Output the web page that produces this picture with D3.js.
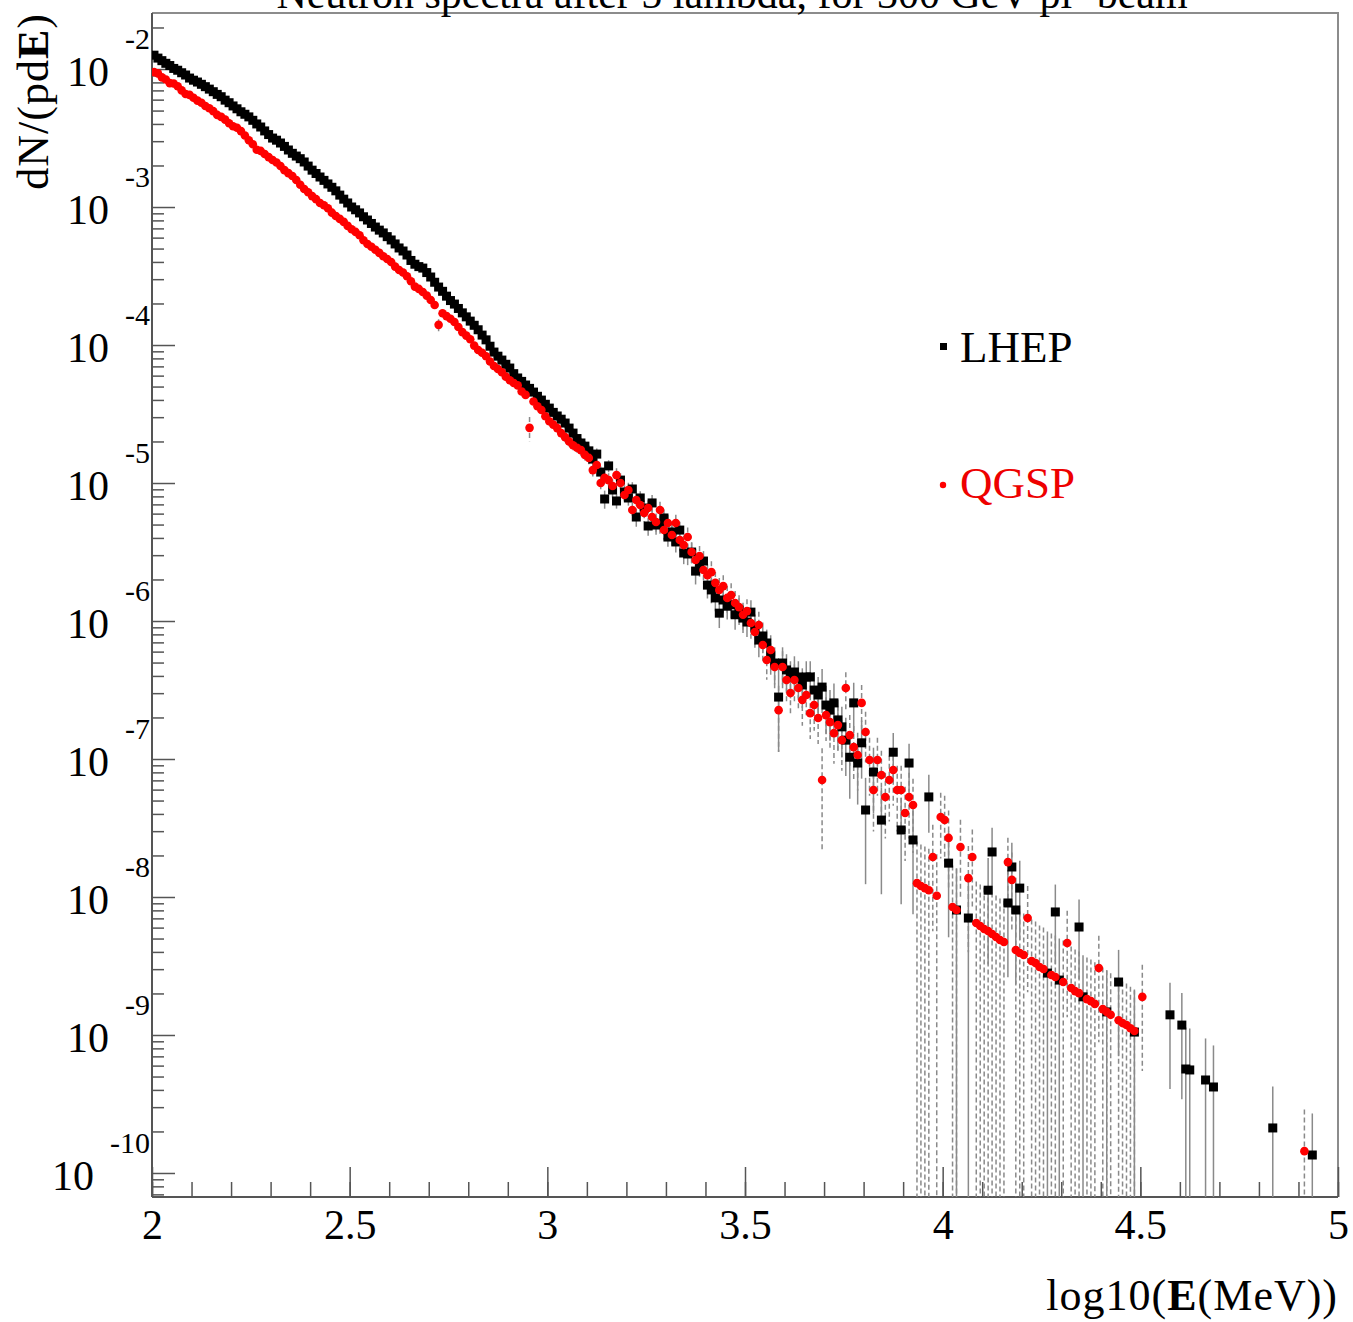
<!DOCTYPE html>
<html>
<head>
<meta charset="utf-8">
<script src="https://cdn.jsdelivr.net/npm/d3@7"></script>
<style>
  body { margin: 0; background: #fff; }
  text { font-family: "Liberation Serif", "Times New Roman", serif; fill: #000; }
</style>
</head>
<body>
<div id="chart"></div>
<script>
// LHEP: log10(E/MeV) bin centre, dN/(pdE), relative error
var lhepE = [2.005,2.015,2.025,2.035,2.045,2.055,2.065,2.075,2.085,2.095,2.105,2.115,2.125,2.135,2.145,2.155,2.165,2.175,2.185,2.195,
  2.205,2.215,2.225,2.235,2.245,2.255,2.265,2.275,2.285,2.295,2.305,2.315,2.325,2.335,2.345,2.355,2.365,2.375,2.385,2.395,
  2.405,2.415,2.425,2.435,2.445,2.455,2.465,2.475,2.485,2.495,2.505,2.515,2.525,2.535,2.545,2.555,2.565,2.575,2.585,2.595,
  2.605,2.615,2.625,2.635,2.645,2.655,2.665,2.675,2.685,2.695,2.705,2.715,2.725,2.735,2.745,2.755,2.765,2.775,2.785,2.795,
  2.805,2.815,2.825,2.835,2.845,2.855,2.865,2.875,2.885,2.895,2.905,2.915,2.925,2.935,2.945,2.955,2.965,2.975,2.985,2.995,
  3.005,3.015,3.025,3.035,3.045,3.055,3.065,3.075,3.085,3.095,
  3.105,3.115,3.125,3.135,3.145,3.155,3.165,3.175,3.185,3.195,3.205,3.215,3.225,3.235,3.245,3.255,3.265,3.275,3.285,3.295,
  3.305,3.315,3.325,3.335,3.345,3.355,3.365,3.375,3.385,3.395,3.405,3.415,3.425,3.435,3.445,3.455,3.465,3.475,3.485,3.495,
  3.505,3.515,3.525,3.535,3.545,3.555,3.565,3.575,3.585,3.595,3.605,3.615,3.625,3.635,3.645,3.655,3.665,3.675,3.685,3.695,
  3.705,3.715,3.725,3.735,3.745,3.755,3.765,3.775,3.785,3.795,
  3.805,3.825,3.845,3.875,3.895,3.915,3.925,3.965,4.015,4.035,4.065,4.115,4.125,4.165,4.175,4.185,4.195,4.265,4.285,4.295,
  4.345,4.355,4.415,4.445,4.485,4.575,4.605,4.615,4.625,4.665,4.685,4.835,4.935];
var lhepN = [1.26e-2,1.20e-2,1.15e-2,1.10e-2,1.06e-2,1.01e-2,9.80e-3,9.40e-3,9.05e-3,8.60e-3,8.30e-3,8.05e-3,7.75e-3,7.45e-3,7.15e-3,6.85e-3,6.55e-3,6.30e-3,5.95e-3,5.70e-3,
  5.40e-3,5.15e-3,4.90e-3,4.70e-3,4.50e-3,4.25e-3,4.00e-3,3.80e-3,3.56e-3,3.35e-3,3.16e-3,3.05e-3,2.91e-3,2.75e-3,2.59e-3,2.45e-3,2.34e-3,2.24e-3,2.12e-3,1.98e-3,
  1.85e-3,1.75e-3,1.65e-3,1.56e-3,1.47e-3,1.39e-3,1.31e-3,1.22e-3,1.14e-3,1.07e-3,1.00e-3,9.55e-4,9.06e-4,8.50e-4,8.05e-4,7.60e-4,7.16e-4,6.80e-4,6.49e-4,6.10e-4,
  5.77e-4,5.40e-4,5.05e-4,4.80e-4,4.49e-4,4.10e-4,3.85e-4,3.70e-4,3.61e-4,3.35e-4,3.11e-4,2.85e-4,2.63e-4,2.45e-4,2.26e-4,2.10e-4,1.98e-4,1.84e-4,1.71e-4,1.60e-4,
  1.49e-4,1.39e-4,1.29e-4,1.18e-4,1.09e-4,9.80e-5,8.89e-5,8.30e-5,7.78e-5,7.25e-5,6.81e-5,6.20e-5,5.77e-5,5.45e-5,5.13e-5,4.85e-5,4.56e-5,4.25e-5,3.99e-5,3.72e-5,
  3.49e-5,3.25e-5,3.06e-5,2.90e-5,2.72e-5,2.50e-5,2.30e-5,2.10e-5,1.95e-5,1.85e-5,
  1.71e-5,1.49e-5,1.62e-5,1.20e-5,7.66e-6,1.33e-5,8.90e-6,7.41e-6,1.05e-5,8.61e-6,7.79e-6,9.05e-6,5.67e-6,7.79e-6,6.59e-6,4.88e-6,7.17e-6,4.96e-6,5.05e-6,5.58e-6,
  4.06e-6,4.42e-6,3.74e-6,4.56e-6,3.11e-6,3.06e-6,3.16e-6,2.30e-6,2.55e-6,2.72e-6,1.82e-6,1.68e-6,1.47e-6,1.14e-6,1.42e-6,1.28e-6,1.31e-6,1.11e-6,1.20e-6,1.05e-6,
  9.83e-7,1.16e-6,8.90e-7,7.28e-7,7.79e-7,6.93e-7,5.67e-7,4.96e-7,2.81e-7,4.96e-7,4.42e-7,3.93e-7,4.27e-7,3.93e-7,3.44e-7,3.93e-7,3.93e-7,3.16e-7,2.91e-7,3.32e-7,
  2.46e-7,2.26e-7,2.55e-7,1.92e-7,1.71e-7,1.37e-7,1.03e-7,2.55e-7,9.35e-8,1.31e-7,
  4.27e-8,8.05e-8,3.61e-8,1.12e-7,3.06e-8,9.35e-8,2.59e-8,5.31e-8,1.76e-8,8.05e-9,7.04e-9,1.12e-8,2.12e-8,9.05e-9,1.65e-8,8.05e-9,1.16e-8,2.81e-9,7.79e-9,2.50e-9,
  6.06e-9,1.89e-9,1.47e-9,2.42e-9,1.05e-9,1.40e-9,1.18e-9,5.67e-10,5.58e-10,4.72e-10,4.20e-10,2.12e-10,1.35e-10];
var lhepErr = [0.02,0.02,0.02,0.02,0.02,0.02,0.02,0.02,0.02,0.02,0.02,0.02,0.02,0.02,0.02,0.02,0.02,0.02,0.02,0.02,
  0.02,0.02,0.02,0.02,0.02,0.02,0.02,0.02,0.02,0.02,0.02,0.02,0.02,0.02,0.02,0.02,0.02,0.02,0.02,0.02,
  0.03,0.03,0.03,0.03,0.03,0.03,0.03,0.03,0.03,0.03,0.03,0.03,0.03,0.03,0.03,0.03,0.03,0.03,0.03,0.03,
  0.04,0.04,0.04,0.04,0.04,0.04,0.04,0.04,0.04,0.04,0.04,0.04,0.04,0.04,0.04,0.04,0.04,0.04,0.04,0.04,
  0.05,0.05,0.05,0.05,0.05,0.05,0.05,0.05,0.05,0.05,0.06,0.06,0.06,0.06,0.06,0.06,0.06,0.06,0.06,0.06,
  0.07,0.07,0.07,0.07,0.08,0.08,0.08,0.08,0.09,0.09,
  0.1,0.1,0.1,0.1,0.15,0.1,0.12,0.12,0.12,0.12,0.12,0.12,0.15,0.12,0.14,0.15,0.14,0.15,0.15,0.15,
  0.15,0.15,0.16,0.15,0.17,0.17,0.17,0.2,0.18,0.18,0.2,0.2,0.2,0.22,0.2,0.2,0.2,0.22,0.22,0.22,
  0.22,0.22,0.25,0.25,0.25,0.25,0.28,0.3,0.6,0.3,0.3,0.3,0.3,0.3,0.32,0.3,0.3,0.35,0.35,0.35,
  0.38,0.4,0.38,0.4,0.4,0.45,0.5,0.4,0.5,0.45,
  0.71,0.5,0.71,0.38,0.71,0.38,0.71,0.45,0.71,1.0,1.0,0.71,0.5,0.71,0.5,0.71,0.58,1.0,0.58,1.0,
  0.58,1.0,1.0,0.71,1.0,0.71,0.71,1.0,1.0,1.0,1.0,1.0,1.0];

// QGSP: log10(E/MeV) bin centre, dN/(pdE), relative error
var qgspE = [2.005,2.015,2.025,2.035,2.045,2.055,2.065,2.075,2.085,2.095,2.105,2.115,2.125,2.135,2.145,2.155,2.165,2.175,2.185,2.195,
  2.205,2.215,2.225,2.235,2.245,2.255,2.265,2.275,2.285,2.295,2.305,2.315,2.325,2.335,2.345,2.355,2.365,2.375,2.385,2.395,
  2.405,2.415,2.425,2.435,2.445,2.455,2.465,2.475,2.485,2.495,2.505,2.515,2.525,2.535,2.545,2.555,2.565,2.575,2.585,2.595,
  2.605,2.615,2.625,2.635,2.645,2.655,2.665,2.675,2.685,2.695,2.705,2.715,2.725,2.735,2.745,2.755,2.765,2.775,2.785,2.795,
  2.805,2.815,2.825,2.835,2.845,2.855,2.865,2.875,2.885,2.895,2.905,2.915,2.925,2.935,2.945,2.955,2.965,2.975,2.985,2.995,
  3.005,3.015,3.025,3.035,3.045,3.055,3.065,3.075,3.085,3.095,
  3.105,3.115,3.125,3.135,3.145,3.155,3.165,3.175,3.185,3.195,3.205,3.215,3.225,3.235,3.245,3.255,3.265,3.275,3.285,3.295,
  3.305,3.315,3.325,3.335,3.345,3.355,3.365,3.375,3.385,3.395,3.405,3.415,3.425,3.435,3.445,3.455,3.465,3.475,3.485,3.495,
  3.505,3.515,3.525,3.535,3.545,3.555,3.565,3.575,3.585,3.595,3.605,3.615,3.625,3.635,3.645,3.655,3.665,3.675,3.685,3.695,
  3.705,3.715,3.725,3.735,3.745,3.755,3.765,3.775,3.785,3.795,3.805,3.815,3.825,3.835,3.845,3.855,3.865,3.875,3.885,3.895,
  3.905,3.915,3.925,
  3.935,3.945,3.955,3.965,3.975,3.985,3.995,4.005,4.015,4.025,4.035,4.045,4.065,4.075,4.085,4.095,4.105,4.115,4.125,4.135,
  4.145,4.155,4.165,4.175,4.185,4.195,4.205,4.215,4.225,4.235,4.245,4.255,4.275,4.285,4.305,4.315,4.325,4.335,4.345,4.365,
  4.375,4.385,4.395,4.405,4.415,4.425,4.445,4.455,4.465,4.475,4.485,4.505,4.915];
var qgspN = [9.50e-3,9.30e-3,8.70e-3,8.40e-3,7.90e-3,7.85e-3,7.50e-3,7.00e-3,6.60e-3,6.50e-3,6.20e-3,5.90e-3,5.70e-3,5.40e-3,5.20e-3,4.95e-3,4.65e-3,4.50e-3,4.30e-3,4.05e-3,
  3.85e-3,3.75e-3,3.55e-3,3.30e-3,3.05e-3,2.85e-3,2.60e-3,2.55e-3,2.42e-3,2.30e-3,2.19e-3,2.10e-3,1.98e-3,1.85e-3,1.76e-3,1.68e-3,1.57e-3,1.45e-3,1.35e-3,1.28e-3,
  1.20e-3,1.14e-3,1.07e-3,1.03e-3,9.80e-4,9.10e-4,8.60e-4,8.20e-4,7.80e-4,7.30e-4,6.90e-4,6.60e-4,6.25e-4,5.75e-4,5.40e-4,5.15e-4,4.90e-4,4.65e-4,4.40e-4,4.20e-4,
  4.00e-4,3.70e-4,3.50e-4,3.35e-4,3.15e-4,2.90e-4,2.65e-4,2.55e-4,2.42e-4,2.28e-4,2.12e-4,1.95e-4,1.40e-4,1.70e-4,1.62e-4,1.55e-4,1.47e-4,1.35e-4,1.24e-4,1.17e-4,
  1.10e-4,9.90e-5,9.20e-5,8.80e-5,8.30e-5,7.60e-5,7.05e-5,6.70e-5,6.35e-5,5.90e-5,5.55e-5,5.30e-5,5.10e-5,4.60e-5,4.35e-5,2.51e-5,3.90e-5,3.60e-5,3.38e-5,3.05e-5,
  2.80e-5,2.65e-5,2.50e-5,2.30e-5,2.15e-5,2.00e-5,1.88e-5,1.80e-5,1.73e-5,1.60e-5,
  1.52e-5,1.24e-5,1.35e-5,1.00e-5,1.09e-5,1.05e-5,9.51e-6,1.14e-5,1.00e-5,8.19e-6,8.90e-6,6.37e-6,7.53e-6,6.93e-6,6.06e-6,6.59e-6,5.67e-6,5.22e-6,6.37e-6,4.56e-6,
  5.13e-6,4.20e-6,5.13e-6,3.86e-6,3.55e-6,4.06e-6,3.16e-6,2.77e-6,2.96e-6,2.34e-6,2.15e-6,2.26e-6,1.89e-6,1.68e-6,1.79e-6,1.47e-6,1.54e-6,1.35e-6,1.26e-6,1.11e-6,
  1.18e-6,9.67e-7,8.32e-7,9.35e-7,6.70e-7,5.22e-7,6.17e-7,4.64e-7,2.26e-7,4.64e-7,3.74e-7,3.01e-7,3.74e-7,3.27e-7,2.68e-7,2.91e-7,2.15e-7,2.46e-7,1.98e-7,7.04e-8,
  2.08e-7,1.85e-7,1.54e-7,1.76e-7,1.37e-7,3.27e-7,1.49e-7,1.22e-7,1.07e-7,2.55e-7,1.57e-7,9.83e-8,5.96e-8,9.83e-8,7.66e-8,5.31e-8,7.04e-8,8.32e-8,5.96e-8,5.96e-8,
  4.06e-8,5.31e-8,4.64e-8,
  1.26e-8,1.20e-8,1.16e-8,1.12e-8,1.95e-8,1.02e-8,3.80e-8,3.61e-8,2.68e-8,8.46e-9,8.05e-9,2.30e-8,1.37e-8,1.95e-8,6.48e-9,6.17e-9,5.86e-9,5.67e-9,5.39e-9,5.13e-9,
  4.88e-9,4.72e-9,1.79e-8,1.33e-8,4.13e-9,3.93e-9,3.80e-9,7.04e-9,3.44e-9,3.32e-9,3.11e-9,3.01e-9,2.72e-9,2.63e-9,2.42e-9,4.64e-9,2.19e-9,2.08e-9,2.01e-9,1.82e-9,
  1.76e-9,1.68e-9,3.06e-9,1.54e-9,1.47e-9,1.40e-9,1.28e-9,1.22e-9,1.18e-9,1.12e-9,1.07e-9,1.89e-9,1.44e-10];
var qgspErr = [0.02,0.02,0.02,0.02,0.02,0.02,0.02,0.02,0.02,0.02,0.02,0.02,0.02,0.02,0.02,0.02,0.02,0.02,0.02,0.02,
  0.02,0.02,0.02,0.02,0.02,0.02,0.02,0.02,0.02,0.02,0.02,0.02,0.02,0.02,0.02,0.02,0.02,0.02,0.02,0.02,
  0.03,0.03,0.03,0.03,0.03,0.03,0.03,0.03,0.03,0.03,0.03,0.03,0.03,0.03,0.03,0.03,0.03,0.03,0.03,0.03,
  0.04,0.04,0.04,0.04,0.04,0.04,0.04,0.04,0.04,0.04,0.04,0.04,0.1,0.04,0.04,0.04,0.04,0.04,0.04,0.04,
  0.05,0.05,0.05,0.05,0.05,0.05,0.05,0.05,0.05,0.05,0.06,0.06,0.06,0.06,0.06,0.2,0.06,0.06,0.06,0.06,
  0.07,0.07,0.07,0.07,0.08,0.08,0.08,0.08,0.09,0.09,
  0.1,0.1,0.1,0.12,0.12,0.12,0.12,0.12,0.12,0.12,0.13,0.13,0.13,0.13,0.14,0.14,0.15,0.15,0.15,0.15,
  0.15,0.16,0.15,0.17,0.17,0.17,0.18,0.2,0.18,0.2,0.2,0.2,0.2,0.22,0.2,0.22,0.22,0.22,0.22,0.22,
  0.22,0.25,0.25,0.25,0.25,0.28,0.28,0.3,0.5,0.3,0.3,0.32,0.3,0.32,0.35,0.32,0.35,0.35,0.35,0.7,
  0.35,0.38,0.4,0.38,0.4,0.3,0.4,0.42,0.45,0.35,0.4,0.45,0.5,0.45,0.5,0.5,0.5,0.45,0.5,0.5,
  0.55,0.5,0.55,
  1.0,1.0,1.0,1.0,0.71,1.0,0.5,0.5,0.58,1.0,1.0,0.58,0.71,0.58,1.0,1.0,1.0,1.0,1.0,1.0,
  1.0,1.0,0.5,0.58,1.0,1.0,1.0,0.71,1.0,1.0,1.0,1.0,1.0,1.0,1.0,0.71,1.0,1.0,1.0,1.0,
  1.0,1.0,0.71,1.0,1.0,1.0,1.0,1.0,1.0,1.0,1.0,0.71,1.0];

var xTickMajor = [2, 2.5, 3, 3.5, 4, 4.5, 5];
var xTickLabels = ["2", "2.5", "3", "3.5", "4", "4.5", "5"];
var yDecades = [-2, -3, -4, -5, -6, -7, -8, -9, -10];

var W = 1353, H = 1322;
var svg = d3.select("#chart").append("svg").attr("width", W).attr("height", H);

var x = d3.scaleLinear().domain([2, 5]).range([152, 1338]);
var y = d3.scaleLog().domain([Math.pow(10, -10.174), Math.pow(10, -1.594)]).range([1197, 13]);
var yMin = y.domain()[0];

svg.append("clipPath").attr("id", "frame")
  .append("rect").attr("x", 152).attr("y", 13).attr("width", 1186).attr("height", 1184);

// top and right frame lines (lighter than the axes)
svg.append("path").attr("d", "M152,13H1338V1197")
  .attr("fill", "none").attr("stroke", "#8c8c8c").attr("stroke-width", 2);

// x axis: ticks every 0.1, long ones every 0.5
var xMinor = d3.range(20, 51).map(function(d) { return d / 10; });
svg.append("g").attr("transform", "translate(0,1197)")
  .call(d3.axisBottom(x).tickValues(xMinor).tickSize(-15).tickFormat(""))
  .call(function(g) { g.select(".domain").remove(); })
  .selectAll("line").attr("stroke", "#555").attr("stroke-width", 1.5);
var xAx = svg.append("g").attr("transform", "translate(0,1197)")
  .call(d3.axisBottom(x).tickValues(xTickMajor).tickSize(-30).tickPadding(12)
    .tickFormat(function(d, i) { return xTickLabels[i]; }));
xAx.select(".domain").attr("d", "M152,0H1338").attr("stroke", "#555").attr("stroke-width", 2);
xAx.selectAll("line").attr("stroke", "#555").attr("stroke-width", 1.5);
xAx.selectAll("text").style("font-size", "42px").attr("fill", "#000");

// y axis: decades and 2..9 sub ticks
var yMinor = [];
yDecades.concat([-1, -11]).forEach(function(d) {
  for (var k = 2; k <= 9; k++) yMinor.push(k * Math.pow(10, d));
});
yMinor = yMinor.filter(function(v) { return v >= y.domain()[0] && v <= y.domain()[1]; });
var yAxMinor = svg.append("g").attr("transform", "translate(152,0)")
  .call(d3.axisLeft(y).tickValues(yMinor).tickSize(-12).tickFormat(""));
yAxMinor.select(".domain").remove();
yAxMinor.selectAll("line").attr("stroke", "#555").attr("stroke-width", 1.5);
var yAxMajor = svg.append("g").attr("transform", "translate(152,0)")
  .call(d3.axisLeft(y).tickValues(yDecades.map(function(d) { return Math.pow(10, d); })).tickSize(-23).tickFormat(""));
yAxMajor.select(".domain").attr("d", "M0,13V1197").attr("stroke", "#555").attr("stroke-width", 2);
yAxMajor.selectAll("line").attr("stroke", "#555").attr("stroke-width", 1.5);

// y labels: 10 with exponent
yDecades.forEach(function(d) {
  var ty = y(Math.pow(10, d));
  var ex = svg.append("text").attr("x", 150).attr("y", ty - 20)
    .attr("text-anchor", "end").style("font-size", "30px").text(String(d));
  var w = ex.node().getComputedTextLength();
  svg.append("text").attr("x", 150 - w - 16).attr("y", ty + 17)
    .attr("text-anchor", "end").style("font-size", "42px").text("10");
});

var plot = svg.append("g").attr("clip-path", "url(#frame)");

function series(E, N, R) {
  return E.map(function(e, i) { return { e: e, v: N[i], r: R[i] }; });
}
var lhep = series(lhepE, lhepN, lhepErr);
var qgsp = series(qgspE, qgspN, qgspErr);

function errBars(data, dash) {
  plot.append("g").selectAll("line").data(data).enter().append("line")
    .attr("x1", function(d) { return x(d.e); })
    .attr("x2", function(d) { return x(d.e); })
    .attr("y1", function(d) { return y(d.v * (1 + d.r)); })
    .attr("y2", function(d) { var lo = d.v * (1 - d.r); return lo > yMin ? y(lo) : 1200; })
    .attr("stroke", "#8a8a8a").attr("stroke-width", 1.5)
    .attr("stroke-dasharray", dash);
}
errBars(lhep, null);
errBars(qgsp, "5,3");

plot.append("g").selectAll("rect").data(lhep).enter().append("rect")
  .attr("x", function(d) { return x(d.e) - 4.5; })
  .attr("y", function(d) { return y(d.v) - 4.5; })
  .attr("width", 9).attr("height", 9).attr("fill", "#000");
plot.append("g").selectAll("circle").data(qgsp).enter().append("circle")
  .attr("cx", function(d) { return x(d.e); })
  .attr("cy", function(d) { return y(d.v); })
  .attr("r", 4.3).attr("fill", "#f00");

// legend
svg.append("rect").attr("x", 940).attr("y", 343).attr("width", 7).attr("height", 7).attr("fill", "#000");
svg.append("text").attr("x", 960).attr("y", 362).style("font-size", "45px").text("LHEP");
svg.append("circle").attr("cx", 943).attr("cy", 485).attr("r", 3.2).attr("fill", "#f00");
svg.append("text").attr("x", 960).attr("y", 498).style("font-size", "45px").style("fill", "#e00").text("QGSP");

// titles
svg.append("text").attr("x", 732).attr("y", 8).attr("text-anchor", "middle")
  .style("font-size", "42px").text("Neutron spectra after 5 lambda, for 300 GeV pi- beam");
var xt = svg.append("text").attr("x", 1338).attr("y", 1310).attr("text-anchor", "end")
  .style("font-size", "44px").style("letter-spacing", "1px");
xt.append("tspan").text("log10(");
xt.append("tspan").style("font-weight", "bold").text("E");
xt.append("tspan").text("(MeV))");
var yt = svg.append("text").attr("transform", "translate(48,13) rotate(-90)")
  .attr("text-anchor", "end").style("font-size", "44px").style("letter-spacing", "1px");
yt.append("tspan").text("dN/(pd");
yt.append("tspan").style("font-weight", "bold").text("E");
yt.append("tspan").text(")");
</script>
</body>
</html>
